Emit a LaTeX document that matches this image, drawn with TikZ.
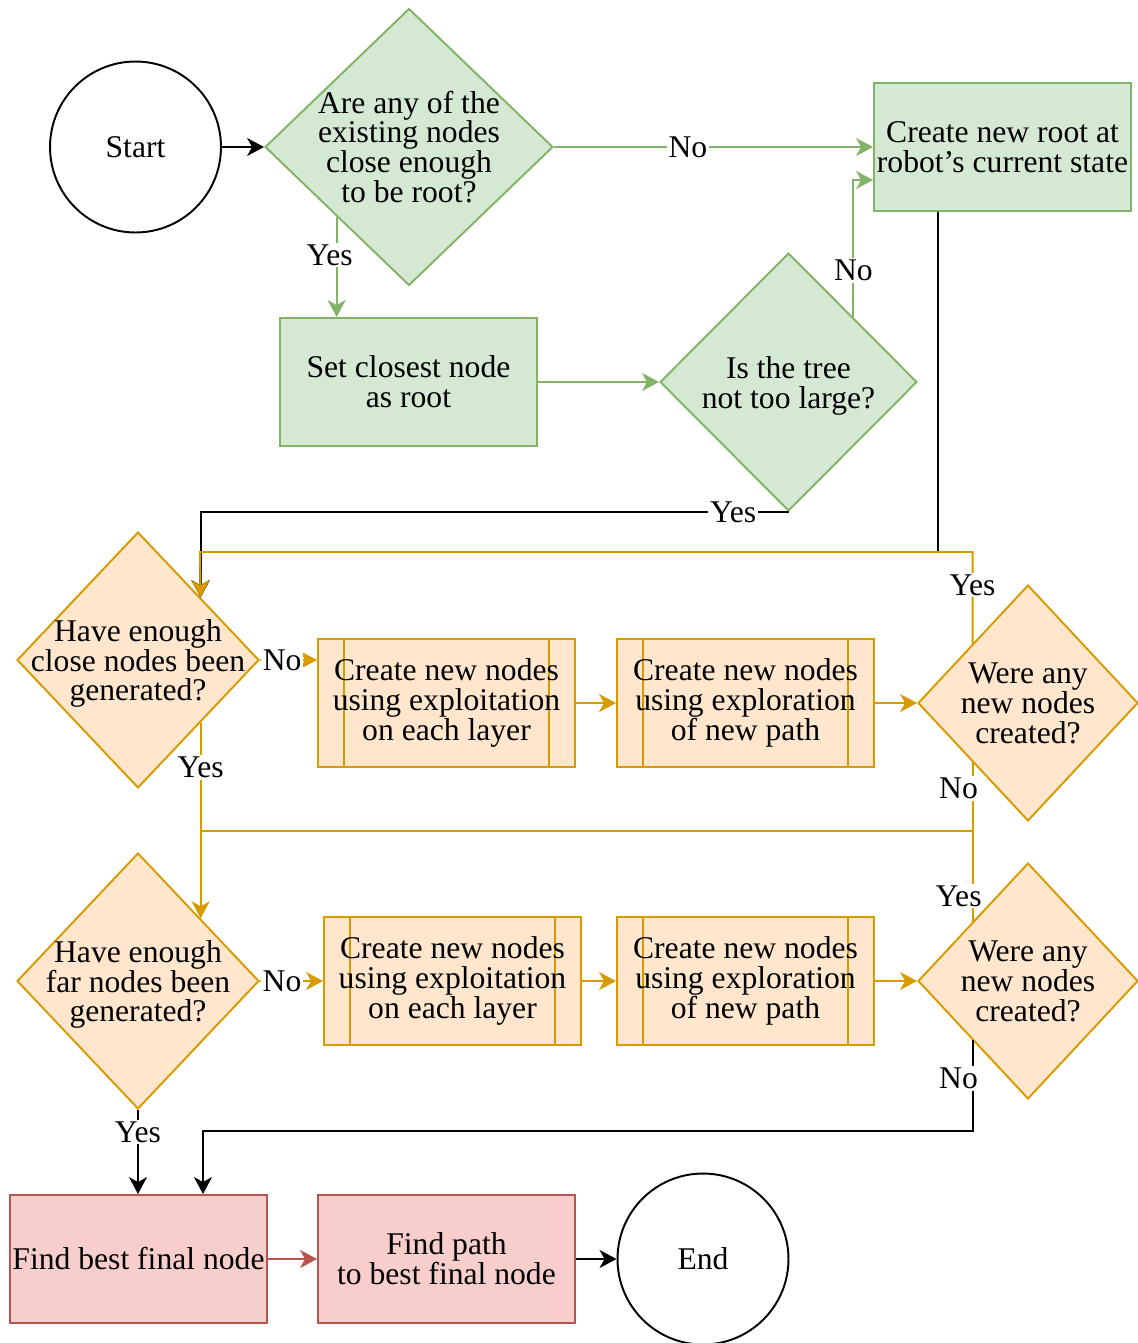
\documentclass[tikz,border=0pt]{standalone}
\usepackage{fontspec}
\setmainfont{Liberation Serif}
\usetikzlibrary{shapes.geometric,arrows.meta,calc}

\definecolor{gfill}{HTML}{D5E8D4}
\definecolor{gline}{HTML}{82B366}
\definecolor{ofill}{HTML}{FFE6CC}
\definecolor{oline}{HTML}{D79B00}
\definecolor{rfill}{HTML}{F8CECC}
\definecolor{rline}{HTML}{B85450}

\begin{document}
\begin{tikzpicture}[x=0.02cm, y=-0.02cm,
    every node/.style = {font=\fontsize{18}{17}\selectfont, align=center},
    shp/.style = {draw, line width=1.1pt, inner sep=0pt},
    box/.style = {shp, rectangle, minimum width=5.14cm, minimum height=2.56cm},
    gbox/.style = {box, fill=gfill, draw=gline},
    rbox/.style = {box, fill=rfill, draw=rline},
    pbox/.style = {box, fill=ofill, draw=oline,
      path picture={\draw[oline, line width=1.1pt]
        ([xshift=0.52cm]path picture bounding box.north west) -- ([xshift=0.52cm]path picture bounding box.south west)
        ([xshift=-0.52cm]path picture bounding box.north east) -- ([xshift=-0.52cm]path picture bounding box.south east);}},
    gdia/.style 2 args = {shp, diamond, fill=gfill, draw=gline, minimum width=#1, minimum height=#2},
    odia/.style 2 args = {shp, diamond, fill=ofill, draw=oline, minimum width=#1, minimum height=#2},
    term/.style = {shp, circle, minimum size=3.42cm},
    line/.style = {line width=1.1pt},
    flow/.style = {line, -{Stealth[length=0.34cm, width=0.36cm, inset=0.1cm]}},
    lbl/.style = {fill=white, text=black, inner sep=1pt}]
  \useasboundingbox (0,0) rectangle (1137,1343);

  \node[term] (start) at (135.5,147) {Start};
  \node[gdia={5.76cm}{5.54cm}, label={center:Are any of the\\existing nodes\\close enough\\to be root?}] (q1) at (409,147) {};
  \node[gbox] (root) at (1002.5,147) {Create new root at\\robot's current state};
  \node[gbox] (setroot) at (408.5,382) {Set closest node\\as root};
  \node[gdia={5.14cm}{5.16cm}, label={[yshift=-2pt]center:Is the tree\\not too large?}] (q2) at (788.5,382) {};

  \node[odia={4.84cm}{5.12cm}, label={[yshift=-2pt]center:Have enough\\close nodes been\\generated?}] (q3) at (138,660) {};
  \node[pbox] (p1) at (446.5,703) {Create new nodes\\using exploitation\\on each layer};
  \node[pbox] (p2) at (745.5,703) {Create new nodes\\using exploration\\of new path};
  \node[odia={4.40cm}{4.72cm}, label={center:Were any\\new nodes\\created?}] (q4) at (1028,703) {};

  \node[odia={4.84cm}{5.12cm}, label={[yshift=-2pt]center:Have enough\\far nodes been\\generated?}] (q5) at (138,981) {};
  \node[pbox] (p3) at (452.5,981) {Create new nodes\\using exploitation\\on each layer};
  \node[pbox] (p4) at (745.5,981) {Create new nodes\\using exploration\\of new path};
  \node[odia={4.40cm}{4.72cm}, label={center:Were any\\new nodes\\created?}] (q6) at (1028,981) {};

  \node[rbox] (f1) at (138.5,1259) {Find best final node};
  \node[rbox] (f2) at (446.5,1259) {Find path\\to best final node};
  \node[term] (end) at (703,1259) {End};

  \coordinate (busA) at (200,552);
  \coordinate (busB) at (200,831);
  \coordinate (busC) at (203,1131);

  \draw[flow] (start) -- (q1);
  \draw[flow, gline] (q1) -- node[lbl, pos=0.42] {No} (root);
  \draw[flow, gline] (q1.224) -- node[lbl, pos=0.38, xshift=-0.14cm] {Yes} (q1.224 |- setroot.north);
  \draw[flow, gline] (setroot) -- (q2);
  \draw[flow, gline] (q2.45) |- node[lbl, pos=0.17] {No} ($(root.west)+(0,33)$);

  \draw[flow] (q2.south) -| node[lbl, pos=0.047] {Yes} (q3.45);
  \draw[flow] ([xshift=-1.29cm]root.south) |- (busA) -- (q3.45);
  \draw[flow, oline] (q4.133) |- node[lbl, pos=0.32] {Yes} (busA) -- (q3.45);

  \draw[flow, oline] (q3.east) -- node[lbl, pos=0.39] {No} (q3.east -| p1.west);
  \draw[flow, oline] (p1) -- (p2);
  \draw[flow, oline] (p2) -- (q4);
  \draw[flow, oline] (q3.-45) -- node[lbl, pos=0.23] {Yes} (q5.45);
  \draw[line, oline] (q4.227) |- node[lbl, pos=0.19, xshift=-0.28cm] {No} (busB);
  \draw[line, oline] (q6.133) |- node[lbl, pos=0.14, xshift=-0.28cm] {Yes} (busB);

  \draw[flow, oline] (q5) -- node[lbl, pos=0.35] {No} (p3);
  \draw[flow, oline] (p3) -- (p4);
  \draw[flow, oline] (p4) -- (q6);

  \draw[flow] (q6.227) |- node[lbl, pos=0.21, xshift=-0.28cm] {No} (busC) -- (busC |- f1.north);
  \draw[flow] (q5.south) -- node[lbl, pos=0.26] {Yes} (q5.south |- f1.north);
  \draw[flow, rline] (f1) -- (f2);
  \draw[flow] (f2) -- (end);
\end{tikzpicture}
\end{document}
